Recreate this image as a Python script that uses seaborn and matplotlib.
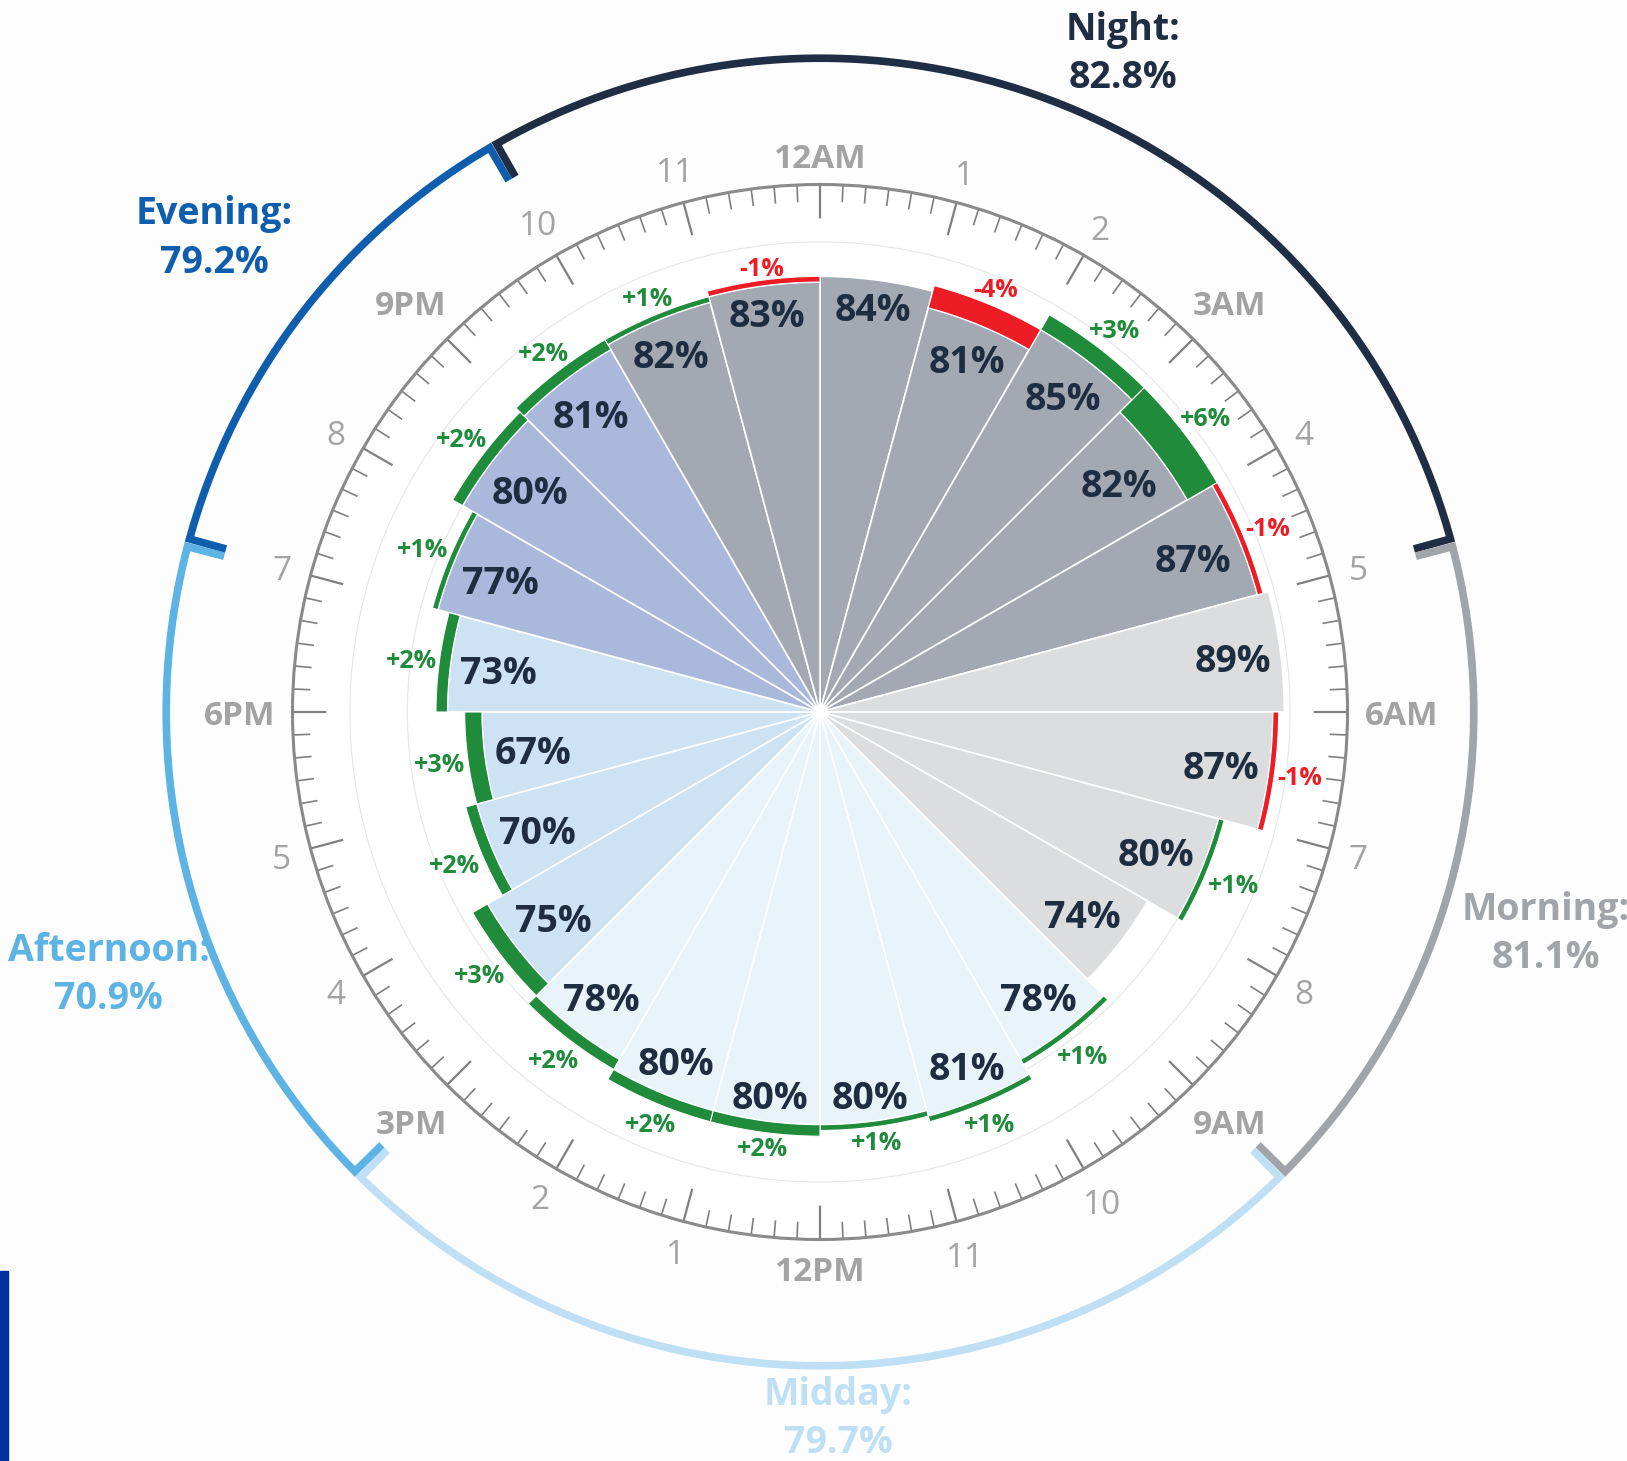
import numpy as np
import pandas as pd
import matplotlib
matplotlib.use("Agg")
import matplotlib.pyplot as plt
import seaborn as sns
from matplotlib.patches import Rectangle


OUT_PATH = "out.png"

# on-time rate for each hour of the day, 12AM first, going clockwise
HOURS = list(range(24))
RATES = [84, 81, 85, 82, 87, 89, 87, 80, 74, 78, 81, 80,
         80, 80, 78, 75, 70, 67, 73, 77, 80, 81, 82, 83]
# change against the year before, in points
CHANGES = [0, -4, 3, 6, -1, 0, -1, 1, 0, 1, 1, 1,
           2, 2, 2, 3, 2, 3, 2, 1, 2, 2, 1, -1]
HOUR_LABELS = ["12AM", "1", "2", "3AM", "4", "5", "6AM", "7", "8", "9AM", "10", "11",
               "12PM", "1", "2", "3PM", "4", "5", "6PM", "7", "8", "9PM", "10", "11"]

PERIODS = ["Night", "Morning", "Midday", "Afternoon", "Evening"]
PERIOD_RATES = [82.8, 81.1, 79.7, 70.9, 79.2]
PERIOD_START = [22, 5, 9, 15, 19]
PERIOD_END = [5, 9, 15, 19, 22]

# styling
PERIOD_COLORS = ["#1f2e44", "#a1a4a9", "#bfe0f4", "#5cb3e4", "#0f5eae"]
WEDGE_COLORS = ["#a3a9b3", "#dcdddf", "#e8f3fa", "#cde3f4", "#aab8dc"]
UP_COLOR = "#1f8b3b"
DOWN_COLOR = "#ee1c25"
TEXT_DARK = "#1e2d40"
HOUR_GREY = "#a3a3a3"
TICK_GREY = "#7f7f7f"

# layout (radial units are percent points)
W, H, DPI = 1627, 1461, 100
CENTER_PX = (820, 712)
R_MIN = 8.1
R_RING = 100
R_ARC = 122
CAP = 6.6
PX_PER_UNIT = 5.74
CAP_HEIGHT = 0.72  # visual height of digits, share of font size
LABEL_ANGLES = [24.7, 107, 178.5, 249.7, 308]
LABEL_RADII = [134.3, 140.3, 131.3, 140.2, 142.1]


def period_of(hour):
    for i, (s, e) in enumerate(zip(PERIOD_START, PERIOD_END)):
        if s < e and s <= hour < e:
            return i
        if s > e and (hour >= s or hour < e):
            return i
    return 0


def place_radial(txt, theta, r_edge, gap, outward, renderer, px_unit):
    """Move a text so its glyphs just clear r_edge along the radius."""
    bb = txt.get_window_extent(renderer)
    h = CAP_HEIGHT * txt.get_fontsize() * DPI / 72
    ext = abs(np.sin(theta)) * bb.width / 2 + abs(np.cos(theta)) * h / 2
    ext /= px_unit
    r = r_edge + gap + ext if outward else r_edge - gap - ext
    txt.set_position((theta, r))


def main():
    sns.set_theme(style="white")
    plt.rcParams["font.family"] = ["Open Sans", "DejaVu Sans"]

    df = pd.DataFrame({"hour": HOURS, "rate": RATES, "change": CHANGES,
                       "label": HOUR_LABELS})
    df["theta"] = np.deg2rad(df["hour"] * 15 + 7.5)
    df["period"] = df["hour"].apply(period_of)

    fig = plt.figure(figsize=(W / DPI, H / DPI), dpi=DPI)
    fig.patch.set_facecolor("#fdfdfd")

    r_px = PX_PER_UNIT * (R_RING - R_MIN)
    cx, cy = CENTER_PX[0], H - CENTER_PX[1]
    ax = fig.add_axes([(cx - r_px) / W, (cy - r_px) / H, 2 * r_px / W, 2 * r_px / H],
                      projection="polar")
    ax.set_facecolor("white")
    ax.set_theta_zero_location("N")
    ax.set_theta_direction(-1)
    ax.set_ylim(R_MIN, R_RING)

    width = 2 * np.pi / 24
    wedge_cols = [WEDGE_COLORS[p] for p in df["period"]]
    ax.bar(df["theta"], df["rate"] - R_MIN, width=width, bottom=R_MIN,
           color=wedge_cols, edgecolor="white", linewidth=1.2, zorder=2)

    moved = df[df["change"] != 0]
    arc_cols = [UP_COLOR if c > 0 else DOWN_COLOR for c in moved["change"]]
    ax.bar(moved["theta"], moved["change"].abs(), width=width, bottom=moved["rate"],
           color=arc_cols, edgecolor="white", linewidth=0.8, zorder=3)

    # grid and ring
    ax.set_yticks([70, 80, 90])
    ax.set_yticklabels([])
    ax.yaxis.grid(True, color="#e6e6e6", linewidth=0.8)
    ax.xaxis.grid(False)
    ax.set_xticks([])
    ax.spines["polar"].set_color("#8a8a8a")
    ax.spines["polar"].set_linewidth(2.2)

    # clock ticks: every 10 minutes, longer on the hour
    steps = np.arange(144)
    tick_t = np.deg2rad(steps * 2.5)
    on_hour = steps % 6 == 0
    for mask, length, lw in [(on_hour, 5.9, 1.6), (~on_hour, 3.0, 1.2)]:
        t = tick_t[mask]
        th = np.column_stack([t, t, np.full_like(t, np.nan)]).ravel()
        rr = np.column_stack([np.full_like(t, R_RING), np.full_like(t, R_RING - length),
                              np.full_like(t, np.nan)]).ravel()
        ax.plot(th, rr, color=TICK_GREY, linewidth=lw, solid_capstyle="butt", zorder=1.5)

    # period arcs with end caps
    delta = np.deg2rad(0.35)
    for i in range(len(PERIODS)):
        end = PERIOD_END[i] if PERIOD_END[i] > PERIOD_START[i] else PERIOD_END[i] + 24
        t0 = np.deg2rad(PERIOD_START[i] * 15) + delta
        t1 = np.deg2rad(end * 15) - delta
        ts = np.linspace(t0, t1, 200)
        th = np.concatenate([[t0], ts, [t1]])
        rr = np.concatenate([[R_ARC - CAP], np.full(200, R_ARC), [R_ARC - CAP]])
        ax.plot(th, rr, color=PERIOD_COLORS[i], linewidth=5.5, clip_on=False,
                solid_joinstyle="miter", solid_capstyle="butt", zorder=4)
        ax.text(np.deg2rad(LABEL_ANGLES[i]), LABEL_RADII[i],
                f"{PERIODS[i]}:\n{PERIOD_RATES[i]:.1f}%", color=PERIOD_COLORS[i],
                fontsize=27, fontweight="bold", ha="center", va="center",
                linespacing=1.35)

    # texts placed after measuring them
    value_txt, change_txt, hour_txt = [], [], []
    for _, row in df.iterrows():
        value_txt.append(ax.text(row["theta"], row["rate"], f"{row['rate']}%",
                                 color=TEXT_DARK, fontsize=27, fontweight="bold",
                                 ha="center", va="center_baseline", zorder=5))
        if row["change"] != 0:
            col = UP_COLOR if row["change"] > 0 else DOWN_COLOR
            change_txt.append(ax.text(row["theta"], row["rate"], f"{row['change']:+d}%",
                                      color=col, fontsize=18, fontweight="bold",
                                      ha="center", va="center_baseline", zorder=5))
    for h, lab in zip(HOURS, HOUR_LABELS):
        weight = "bold" if lab.endswith("M") else "normal"
        hour_txt.append(ax.text(np.deg2rad(h * 15), R_RING, lab, color=HOUR_GREY,
                                fontsize=24, fontweight=weight,
                                ha="center", va="center_baseline"))

    fig.canvas.draw()
    renderer = fig.canvas.get_renderer()
    p0 = ax.transData.transform((0, R_MIN))
    p1 = ax.transData.transform((0, R_RING))
    px_unit = np.hypot(*(p1 - p0)) / (R_RING - R_MIN)

    for txt, (_, row) in zip(value_txt, df.iterrows()):
        place_radial(txt, row["theta"], row["rate"], 1.5, False, renderer, px_unit)
    for txt, (_, row) in zip(change_txt, moved.iterrows()):
        top = row["rate"] + abs(row["change"])
        place_radial(txt, row["theta"], top, 0.3, True, renderer, px_unit)
    for txt, h in zip(hour_txt, HOURS):
        place_radial(txt, np.deg2rad(h * 15), 103.0, 0, True, renderer, px_unit)

    # blue edge strip, bottom left
    fig.patches.append(Rectangle((0, 0), 8 / W, (H - 1271) / H,
                                 transform=fig.transFigure, color="#0033a0",
                                 zorder=0))

    fig.savefig(OUT_PATH, dpi=DPI, facecolor=fig.get_facecolor())


if __name__ == "__main__":
    main()
